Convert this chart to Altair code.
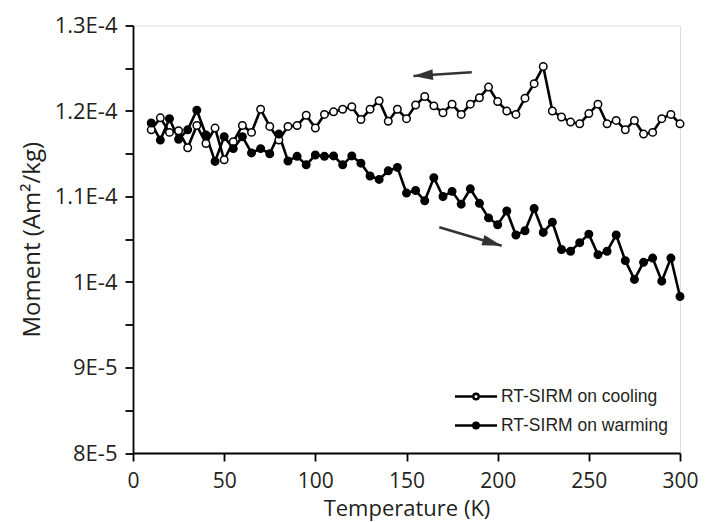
import altair as alt
import pandas as pd

# Temperature (K)
temps = list(range(10, 305, 5))

# Moment (Am^2/kg)
cooling = [
    1.178e-4, 1.192e-4, 1.175e-4, 1.177e-4, 1.157e-4, 1.183e-4, 1.162e-4, 1.180e-4,
    1.143e-4, 1.164e-4, 1.183e-4, 1.175e-4, 1.202e-4, 1.182e-4, 1.166e-4, 1.182e-4,
    1.183e-4, 1.195e-4, 1.180e-4, 1.196e-4, 1.199e-4, 1.202e-4, 1.205e-4, 1.190e-4,
    1.202e-4, 1.212e-4, 1.188e-4, 1.202e-4, 1.191e-4, 1.207e-4, 1.217e-4, 1.206e-4,
    1.198e-4, 1.208e-4, 1.196e-4, 1.208e-4, 1.2155e-4, 1.228e-4, 1.211e-4, 1.200e-4,
    1.196e-4, 1.215e-4, 1.232e-4, 1.252e-4, 1.200e-4, 1.193e-4, 1.187e-4, 1.185e-4,
    1.197e-4, 1.208e-4, 1.185e-4, 1.189e-4, 1.178e-4, 1.189e-4, 1.173e-4, 1.175e-4,
    1.191e-4, 1.196e-4, 1.185e-4,
]
warming = [
    1.186e-4, 1.166e-4, 1.191e-4, 1.167e-4, 1.178e-4, 1.201e-4, 1.172e-4, 1.141e-4,
    1.170e-4, 1.156e-4, 1.170e-4, 1.151e-4, 1.156e-4, 1.150e-4, 1.173e-4, 1.1415e-4,
    1.147e-4, 1.137e-4, 1.1485e-4, 1.147e-4, 1.1475e-4, 1.137e-4, 1.1475e-4, 1.139e-4,
    1.124e-4, 1.120e-4, 1.130e-4, 1.134e-4, 1.104e-4, 1.107e-4, 1.095e-4, 1.122e-4,
    1.100e-4, 1.106e-4, 1.091e-4, 1.109e-4, 1.092e-4, 1.075e-4, 1.067e-4, 1.083e-4,
    1.055e-4, 1.060e-4, 1.086e-4, 1.058e-4, 1.070e-4, 1.038e-4, 1.036e-4, 1.046e-4,
    1.056e-4, 1.032e-4, 1.036e-4, 1.055e-4, 1.025e-4, 1.003e-4, 1.023e-4, 1.028e-4,
    1.001e-4, 1.028e-4, 0.983e-4,
]
series_names = ["RT-SIRM on cooling", "RT-SIRM on warming"]

# Arrow annotations (data coordinates)
arrow_tail_t = [185.8, 168.0]
arrow_tail_m = [1.2454e-4, 1.064e-4]
arrow_tip_t = [153.8, 202.2]
arrow_tip_m = [1.241e-4, 1.0425e-4]
arrow_dir = [266.3, 106.4]

rows = []
for t, c in zip(temps, cooling):
    rows.append({"T": t, "M": c, "series": series_names[0]})
for t, w in zip(temps, warming):
    rows.append({"T": t, "M": w, "series": series_names[1]})
df = pd.DataFrame(rows)

arrows = pd.DataFrame({
    "t0": arrow_tail_t, "m0": arrow_tail_m,
    "t1": arrow_tip_t, "m1": arrow_tip_m, "ang": arrow_dir,
})

FONT = "Open Sans"
TXT = "#231f20"

xscale = alt.Scale(domain=[0, 300], nice=False)
yscale = alt.Scale(domain=[8e-5, 1.3e-4], nice=False, zero=False)

y_vals = [round(8e-5 + i * 5e-6, 10) for i in range(11)]
r = "round(datum.value*1e6)"
label_expr = (
    f"({r} % 10 != 0) ? '' : ({r} >= 100 ? ({r} == 100 ? '1E-4' : "
    f"format({r}/100, '.1f') + 'E-4') : ({r}/10) + 'E-5')"
)

x_axis = alt.Axis(
    title="Temperature (K)", values=[0, 50, 100, 150, 200, 250, 300],
    grid=False, domainColor="black", domainWidth=1.8, tickColor="black",
    tickWidth=1.8, tickSize=8, labelFont=FONT, labelFontSize=21,
    labelColor=TXT, labelPadding=9, labelFlush=False, titleFont=FONT,
    titleFontSize=22, titleFontWeight="normal", titleColor=TXT, titlePadding=7,
)
y_axis = alt.Axis(
    title="Moment (Am²/kg)", values=y_vals, labelExpr=label_expr,
    grid=False, domainColor="black", domainWidth=1.8, tickColor="black",
    tickWidth=1.8, tickSize=8, labelFont=FONT, labelFontSize=22,
    labelColor=TXT, labelPadding=8, labelFlush=False, titleFont=FONT,
    titleFontSize=24, titleFontWeight="normal", titleColor=TXT, titlePadding=10,
)

base = alt.Chart(df)

lines = base.mark_line(color="black", strokeWidth=2.6).encode(
    x=alt.X("T:Q", scale=xscale, axis=x_axis),
    y=alt.Y("M:Q", scale=yscale, axis=y_axis),
    detail="series:N",
)

legend_symbol = (
    "M-2,0H-0.26A0.26,0.26,0,1,0,0.26,0A0.26,0.26,0,1,0,-0.26,0M0.26,0H2"
)

points = base.mark_point(
    shape="circle", filled=True, stroke="black", strokeWidth=1.5, size=56, opacity=1
).encode(
    x=alt.X("T:Q", scale=xscale),
    y=alt.Y("M:Q", scale=yscale),
    fill=alt.Fill(
        "series:N",
        scale=alt.Scale(domain=series_names, range=["white", "black"]),
        legend=alt.Legend(
            title=None, orient="none", legendX=331, legendY=359,
            symbolType=legend_symbol, symbolSize=441, symbolStrokeColor="black",
            symbolStrokeWidth=2.4, labelFont="Liberation Sans", labelFontSize=17.5,
            labelColor=TXT, labelOffset=13, labelLimit=0, rowPadding=8, padding=0,
        ),
    ),
)

arrow_lines = alt.Chart(arrows).mark_rule(color="#333333", strokeWidth=2.6).encode(
    x="t0:Q", y="m0:Q", x2="t1:Q", y2="m1:Q",
)
arrow_heads = alt.Chart(arrows).mark_point(
    shape="M0,0L0.55,2L-0.55,2Z", filled=True, color="#333333", size=380, opacity=1,
).encode(
    x=alt.X("t1:Q", scale=xscale),
    y=alt.Y("m1:Q", scale=yscale),
    angle=alt.Angle("ang:Q", scale=None),
)

chart = alt.layer(lines, points, arrow_lines, arrow_heads).properties(
    width=547, height=427.5,
    autosize=alt.AutoSizeParams(type="none"),
    padding={"left": 133, "top": 25.5, "right": 26, "bottom": 69},
).configure_view(stroke=None).configure(background="white")

chart.save("out.html", embed_options={"renderer": "svg", "actions": False})
